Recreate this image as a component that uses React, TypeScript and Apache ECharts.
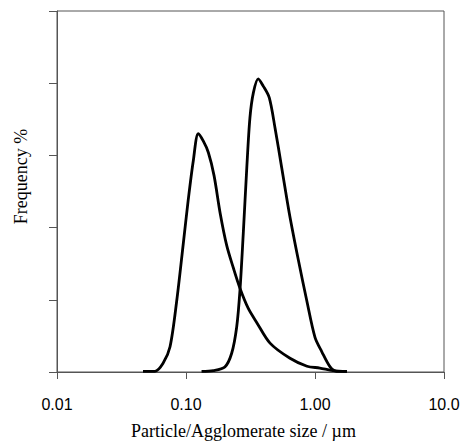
import React, { useEffect, useRef } from "react";
import * as echarts from "echarts";

// Particle size distribution (primary particles)
const particleSize = [0.0464, 0.0575, 0.0664, 0.0752, 0.0848, 0.0953, 0.104, 0.114, 0.1245, 0.136, 0.149, 0.165, 0.184, 0.207, 0.233, 0.262, 0.304, 0.355, 0.448, 0.64, 0.867, 1.09, 1.38, 1.77];
const particleFreq = [0.01, 0.01, 0.12, 0.35, 0.99, 1.78, 2.38, 2.93, 3.3, 3.2, 3.04, 2.72, 2.2, 1.75, 1.44, 1.16, 0.88, 0.68, 0.4, 0.19, 0.08, 0.055, 0.02, 0.007];

// Agglomerate size distribution
const agglomSize = [0.132, 0.163, 0.2, 0.226, 0.247, 0.262, 0.278, 0.296, 0.313, 0.333, 0.363, 0.397, 0.442, 0.49, 0.552, 0.632, 0.743, 0.863, 1.0, 1.13, 1.31, 1.47, 1.76];
const agglomFreq = [0.01, 0.02, 0.07, 0.26, 0.62, 1.13, 1.92, 2.83, 3.52, 3.87, 4.06, 3.96, 3.8, 3.38, 2.83, 2.2, 1.55, 0.99, 0.48, 0.28, 0.07, 0.01, 0.01];

const xTickLabels: Record<string, string> = { "0.01": "0.01", "0.1": "0.10", "1": "1.00", "10": "10.0" };

export default function App() {
  const ref = useRef<HTMLDivElement>(null);
  useEffect(() => {
    if (!ref.current) return;
    const chart = echarts.init(ref.current, undefined, { renderer: "svg" });
    const axisColor = "#555";
    chart.setOption({
      animation: false,
      backgroundColor: "#fff",
      grid: {
        left: 57,
        right: 17,
        top: 11,
        bottom: 72,
        outerBoundsMode: "none",
        containLabel: false,
        show: true,
        borderColor: axisColor,
        borderWidth: 1,
        backgroundColor: "transparent",
      },
      xAxis: {
        type: "log",
        logBase: 10,
        min: 0.01,
        max: 10,
        name: "Particle/Agglomerate size / µm",
        nameLocation: "middle",
        nameGap: 50,
        nameTextStyle: {
          fontFamily: "Liberation Serif",
          fontSize: 18,
          color: "#000",
          padding: [0, 14, 0, 0],
        },
        axisLine: { show: true, lineStyle: { color: axisColor, width: 1 } },
        axisTick: { show: true, inside: false, length: 7, lineStyle: { color: axisColor } },
        minorTick: { show: false },
        splitLine: { show: false },
        axisLabel: {
          margin: 24,
          fontFamily: "Liberation Sans",
          fontSize: 16,
          color: "#000",
          formatter: (v: number) => {
            const k = String(Number(v.toPrecision(3)));
            return xTickLabels[k] ?? k;
          },
        },
      },
      yAxis: {
        type: "value",
        min: 0,
        max: 5,
        interval: 1,
        name: "Frequency %",
        nameLocation: "middle",
        nameGap: 27,
        nameRotate: 90,
        nameTextStyle: {
          fontFamily: "Liberation Serif",
          fontSize: 18,
          color: "#000",
          padding: [0, 0, 0, 30],
        },
        axisLine: { show: true, lineStyle: { color: axisColor, width: 1 } },
        axisTick: { show: true, inside: false, length: 8, lineStyle: { color: axisColor } },
        axisLabel: { show: false },
        splitLine: { show: false },
      },
      series: [
        {
          type: "line",
          name: "Particles",
          data: particleSize.map((x, i) => [x, particleFreq[i]]),
          smooth: 0.3,
          showSymbol: false,
          lineStyle: { color: "#000", width: 2.8 },
        },
        {
          type: "line",
          name: "Agglomerates",
          data: agglomSize.map((x, i) => [x, agglomFreq[i]]),
          smooth: 0.3,
          showSymbol: false,
          lineStyle: { color: "#000", width: 2.8 },
        },
      ],
    });
    return () => chart.dispose();
  }, []);
  return (
    <div
      ref={ref}
      style={{ position: "fixed", left: 0, top: 0, width: 461, height: 444, background: "#fff" }}
    />
  );
}
